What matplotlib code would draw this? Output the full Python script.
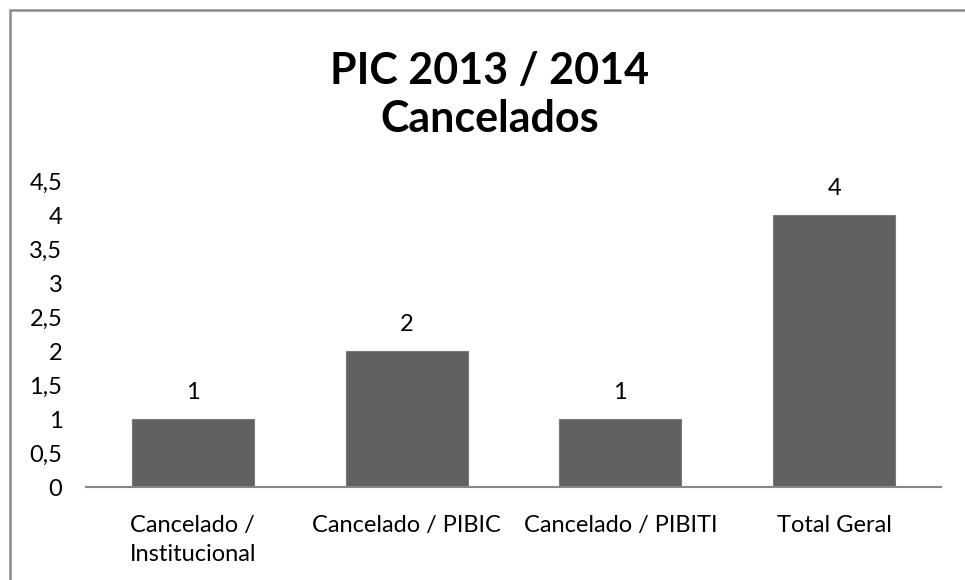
import matplotlib.pyplot as plt
from matplotlib.patches import Rectangle

# dados
categorias = ['Cancelado /\nInstitucional', 'Cancelado / PIBIC', 'Cancelado / PIBITI', 'Total Geral']
valores = [1, 2, 1, 4]
yticks = [0, 0.5, 1, 1.5, 2, 2.5, 3, 3.5, 4, 4.5]
titulo = 'PIC 2013 / 2014\nCancelados'

plt.rcParams['font.family'] = ['Lato', 'DejaVu Sans']


def fmt(v):
    # vírgula decimal
    s = ('%g' % v)
    return s.replace('.', ',')


def main():
    fig = plt.figure(figsize=(9.65, 5.8), dpi=100)
    W, H = 965, 580

    # borda da área do gráfico (cortada à direita e embaixo)
    fig.patches.append(Rectangle((9.5 / W, -0.05), (975 - 9.5) / W, 1.05 - 10.5 / H,
                                 transform=fig.transFigure, fill=False,
                                 edgecolor='#8a8a8a', linewidth=1.8))

    ax = fig.add_axes([86 / W, 1 - 487.3 / H, 855 / W, (487.3 - 181.3) / H])
    x = range(len(categorias))
    bars = ax.bar(x, valores, width=0.57, color='#616161', edgecolor='#7a7a7a', linewidth=0.8)

    for b, v in zip(bars, valores):
        ax.text(b.get_x() + b.get_width() / 2, v + 0.24, fmt(v), ha='center', va='bottom',
                fontsize=17, color='black')

    ax.set_xlim(-0.5, len(categorias) - 0.5)
    ax.set_ylim(0, 4.5)
    ax.set_yticks(yticks)
    ax.set_yticklabels([fmt(t) for t in yticks], fontsize=17)
    ax.set_xticks(list(x))
    ax.set_xticklabels(categorias, fontsize=17, linespacing=1.45)
    ax.tick_params(axis='y', length=0, pad=17)
    ax.tick_params(axis='x', length=0, pad=20)

    for s in ['top', 'right', 'left']:
        ax.spines[s].set_visible(False)
    ax.spines['bottom'].set_color('#878787')
    ax.spines['bottom'].set_linewidth(1.5)

    fig.text(490 / W, 1 - 95 / H, titulo, ha='center', va='center', fontsize=31,
             fontweight='bold', linespacing=1.22)

    fig.savefig('out.png', dpi=100)


if __name__ == '__main__':
    main()
